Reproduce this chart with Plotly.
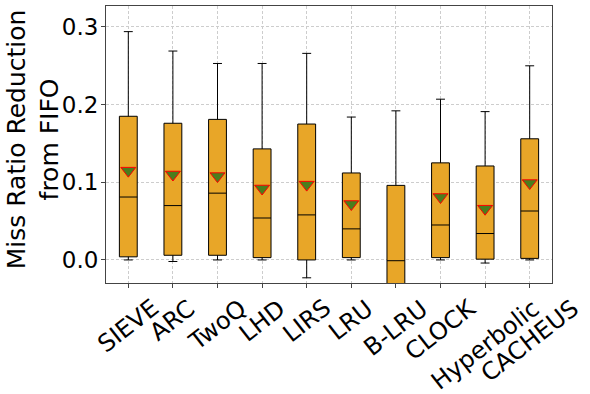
import plotly.graph_objects as go

categories = ["SIEVE", "ARC", "TwoQ", "LHD", "LIRS", "LRU", "B-LRU", "CLOCK", "Hyperbolic", "CACHEUS"]
upper = [0.294, 0.269, 0.253, 0.253, 0.266, 0.184, 0.192, 0.207, 0.191, 0.250]
q3 = [0.185, 0.176, 0.181, 0.143, 0.175, 0.112, 0.096, 0.125, 0.121, 0.156]
median = [0.081, 0.070, 0.086, 0.054, 0.058, 0.040, -0.001, 0.045, 0.034, 0.063]
q1 = [0.004, 0.006, 0.006, 0.003, 0.000, 0.003, -0.060, 0.003, 0.001, 0.002]
lower = [0.000, -0.002, 0.000, 0.000, -0.023, 0.000, -0.200, 0.000, -0.004, 0.000]
mean = [0.115, 0.110, 0.108, 0.092, 0.097, 0.072, -0.045, 0.081, 0.066, 0.099]
yticks = [0.0, 0.1, 0.2, 0.3]
ytick_text = ["0.0", "0.1", "0.2", "0.3"]

FONT = "DejaVu Sans"

fig = go.Figure()
fig.add_trace(go.Box(
    x=categories, q1=q1, median=median, q3=q3,
    lowerfence=lower, upperfence=upper,
    fillcolor="#E8A628", line=dict(color="black", width=1),
    whiskerwidth=0.5, width=0.4, boxpoints=False, showlegend=False,
))
fig.add_trace(go.Scatter(
    x=categories, y=mean, mode="markers", showlegend=False,
    marker=dict(symbol="triangle-down", size=13, color="#4b7d1d",
                line=dict(color="red", width=1)),
))

for c in categories:
    fig.add_annotation(x=c, xref="x", y=-0.03, yref="paper", text=c,
                       textangle=-38, xanchor="center", yanchor="top",
                       showarrow=False, font=dict(family=FONT, size=24, color="black"))

fig.add_annotation(x=-0.163, xref="paper", y=0.52, yref="paper",
                   text="Miss Ratio Reduction<br>from FIFO", textangle=-90,
                   xanchor="center", yanchor="middle", showarrow=False,
                   font=dict(family=FONT, size=25, color="black"))

grid = dict(showgrid=True, gridcolor="#cdcdcd", griddash="3px,2px", gridwidth=1)

fig.update_layout(
    width=590, height=394,
    margin=dict(l=106, r=38, t=6, b=111),
    plot_bgcolor="white", paper_bgcolor="white",
    font=dict(family=FONT, color="black"),
    xaxis=dict(range=[-0.5, 9.5], showticklabels=False, ticks="outside", ticklen=4,
               tickcolor="#444", showline=True, linecolor="#444", linewidth=1,
               mirror=True, zeroline=False, **grid),
    yaxis=dict(range=[-0.0297, 0.327], tickvals=yticks, ticktext=ytick_text,
               ticks="outside", ticklen=4, tickcolor="#444",
               tickfont=dict(family=FONT, size=23, color="black"),
               ticklabelstandoff=-2,
               showline=True, linecolor="#444", linewidth=1, mirror=True,
               zeroline=False, **grid),
)

fig.write_html("out.html", config={"displayModeBar": False},
               post_script="document.body.style.margin='0';")
